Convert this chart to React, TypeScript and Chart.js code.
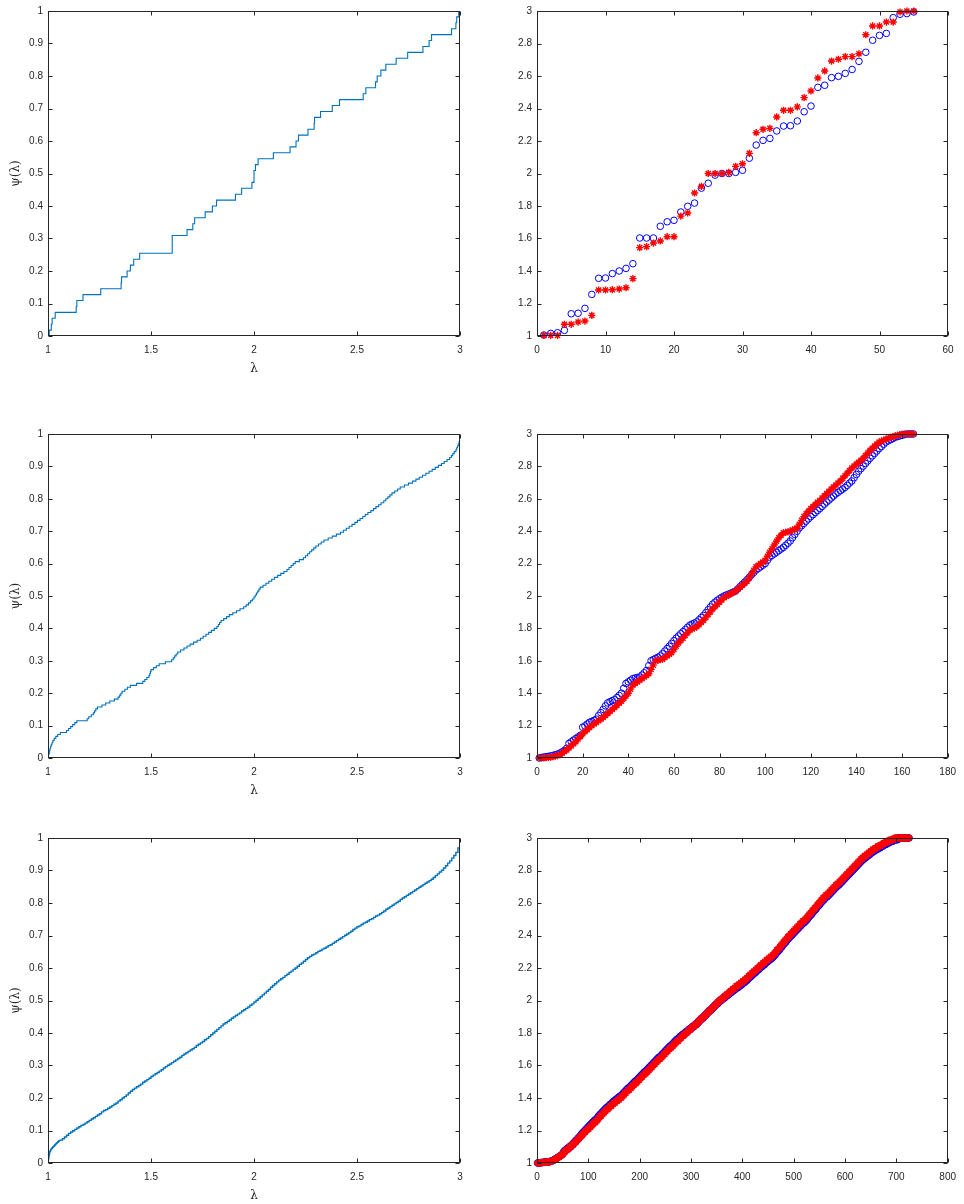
import { useEffect, useRef } from 'react';
import { Chart, registerables } from 'chart.js';

Chart.register(...registerables);

// ---------- data ----------
const TOP_BLUE = [
  1.006, 1.016, 1.020, 1.035, 1.137, 1.140, 1.170, 1.256, 1.355, 1.357,
  1.384, 1.400, 1.416, 1.445, 1.603, 1.603, 1.603, 1.675, 1.703, 1.712,
  1.763, 1.798, 1.818, 1.910, 1.940, 1.990, 2.000, 2.000, 2.007, 2.020,
  2.094, 2.175, 2.204, 2.216, 2.262, 2.292, 2.294, 2.323, 2.380, 2.415,
  2.530, 2.543, 2.590, 2.598, 2.616, 2.640, 2.690, 2.746, 2.820, 2.850,
  2.862, 2.959, 2.980, 2.984, 2.994,
];
const TOP_RED = [
  1.004, 1.004, 1.004, 1.072, 1.072, 1.086, 1.092, 1.127, 1.283, 1.283,
  1.285, 1.289, 1.297, 1.353, 1.544, 1.550, 1.572, 1.585, 1.611, 1.611,
  1.738, 1.757, 1.880, 1.921, 2.000, 2.000, 2.000, 2.007, 2.044, 2.060,
  2.124, 2.251, 2.272, 2.278, 2.348, 2.389, 2.389, 2.410, 2.467, 2.508,
  2.588, 2.631, 2.692, 2.703, 2.719, 2.719, 2.737, 2.854, 2.908, 2.908,
  2.932, 2.932, 2.994, 3.000, 3.000,
];

const MID_BLUE = [
  1.000, 1.003, 1.006, 1.008, 1.010, 1.013, 1.016, 1.020, 1.024, 1.030,
  1.038, 1.047, 1.060, 1.090, 1.100, 1.110, 1.120, 1.130, 1.140, 1.190,
  1.198, 1.210, 1.220, 1.226, 1.232, 1.240, 1.262, 1.280, 1.300, 1.322,
  1.340, 1.348, 1.354, 1.360, 1.373, 1.386, 1.400, 1.430, 1.460, 1.470,
  1.480, 1.490, 1.494, 1.497, 1.500, 1.512, 1.526, 1.540, 1.570, 1.600,
  1.608, 1.615, 1.622, 1.630, 1.644, 1.660, 1.675, 1.690, 1.707, 1.724,
  1.740, 1.753, 1.767, 1.780, 1.793, 1.807, 1.820, 1.827, 1.833, 1.840,
  1.853, 1.867, 1.880, 1.897, 1.915, 1.932, 1.950, 1.962, 1.973, 1.983,
  1.992, 2.000, 2.006, 2.012, 2.018, 2.024, 2.030, 2.044, 2.058, 2.072,
  2.086, 2.100, 2.115, 2.130, 2.145, 2.160, 2.170, 2.180, 2.190, 2.200,
  2.220, 2.240, 2.250, 2.260, 2.270, 2.280, 2.290, 2.300, 2.313, 2.326,
  2.340, 2.360, 2.380, 2.400, 2.420, 2.434, 2.448, 2.462, 2.476, 2.490,
  2.502, 2.515, 2.528, 2.540, 2.553, 2.567, 2.580, 2.592, 2.605, 2.617,
  2.630, 2.640, 2.650, 2.660, 2.670, 2.683, 2.697, 2.710, 2.730, 2.750,
  2.770, 2.786, 2.802, 2.818, 2.834, 2.850, 2.865, 2.880, 2.895, 2.910,
  2.923, 2.937, 2.950, 2.958, 2.965, 2.972, 2.980, 2.984, 2.988, 2.992,
  2.996, 3.000, 3.000, 3.000, 3.000,
];
const MID_RED = [
  1.000, 1.000, 1.001, 1.002, 1.003, 1.005, 1.008, 1.011, 1.015, 1.020,
  1.030, 1.040, 1.050, 1.062, 1.075, 1.088, 1.100, 1.117, 1.133, 1.150,
  1.162, 1.175, 1.188, 1.200, 1.210, 1.220, 1.230, 1.240, 1.250, 1.262,
  1.275, 1.288, 1.300, 1.312, 1.325, 1.338, 1.350, 1.367, 1.383, 1.400,
  1.425, 1.450, 1.460, 1.470, 1.480, 1.490, 1.500, 1.510, 1.520, 1.547,
  1.573, 1.600, 1.603, 1.607, 1.610, 1.620, 1.630, 1.640, 1.650, 1.670,
  1.690, 1.710, 1.725, 1.740, 1.757, 1.773, 1.790, 1.797, 1.803, 1.810,
  1.823, 1.837, 1.850, 1.867, 1.885, 1.902, 1.920, 1.934, 1.948, 1.962,
  1.976, 1.990, 1.998, 2.006, 2.014, 2.022, 2.030, 2.042, 2.054, 2.066,
  2.078, 2.090, 2.112, 2.135, 2.158, 2.180, 2.190, 2.200, 2.210, 2.220,
  2.245, 2.270, 2.292, 2.315, 2.338, 2.360, 2.375, 2.390, 2.393, 2.396,
  2.400, 2.407, 2.413, 2.420, 2.443, 2.467, 2.490, 2.507, 2.523, 2.540,
  2.552, 2.565, 2.578, 2.590, 2.604, 2.618, 2.632, 2.646, 2.660, 2.672,
  2.685, 2.698, 2.710, 2.726, 2.742, 2.758, 2.774, 2.790, 2.802, 2.814,
  2.826, 2.838, 2.850, 2.867, 2.883, 2.900, 2.912, 2.925, 2.938, 2.950,
  2.956, 2.962, 2.968, 2.974, 2.980, 2.984, 2.988, 2.992, 2.996, 3.000,
  3.000, 3.000, 3.000, 3.000, 3.000,
];

const BOT_BLUE = [
  1.000,1.000,1.001,1.001,1.001,1.002,1.002,1.002,1.003,1.003,1.003,1.004,1.004,1.004,1.005,1.005,1.005,1.006,1.006,1.006,1.007,1.007,1.008,1.008,1.009,
  1.010,1.011,1.012,1.013,1.014,1.015,1.017,1.019,1.021,1.023,1.025,1.027,1.029,1.031,1.033,1.035,1.037,1.039,1.041,1.043,1.045,1.047,1.050,1.052,1.055,
  1.06,1.07,1.07,1.07,1.08,1.08,1.08,1.08,1.09,1.09,1.09,1.09,1.10,1.10,1.10,1.10,1.11,1.11,1.11,1.12,1.12,1.12,1.13,1.13,1.13,
  1.14,1.14,1.14,1.15,1.15,1.15,1.16,1.16,1.16,1.17,1.17,1.18,1.18,1.18,1.19,1.19,1.19,1.20,1.20,1.20,1.21,1.21,1.21,1.22,1.22,
  1.22,1.23,1.23,1.23,1.24,1.24,1.24,1.25,1.25,1.25,1.26,1.26,1.26,1.26,1.27,1.27,1.27,1.28,1.28,1.29,1.29,1.29,1.30,1.30,1.30,
  1.31,1.31,1.31,1.32,1.32,1.32,1.33,1.33,1.33,1.34,1.34,1.34,1.34,1.35,1.35,1.35,1.36,1.36,1.36,1.36,1.37,1.37,1.37,1.38,1.38,
  1.38,1.38,1.39,1.39,1.39,1.39,1.40,1.40,1.40,1.40,1.41,1.41,1.41,1.41,1.42,1.42,1.42,1.43,1.43,1.43,1.44,1.44,1.44,1.45,1.45,
  1.45,1.46,1.46,1.46,1.46,1.47,1.47,1.47,1.48,1.48,1.48,1.49,1.49,1.49,1.50,1.50,1.50,1.50,1.51,1.51,1.51,1.52,1.52,1.52,1.53,
  1.53,1.53,1.54,1.54,1.54,1.55,1.55,1.55,1.56,1.56,1.56,1.56,1.57,1.57,1.57,1.58,1.58,1.58,1.59,1.59,1.59,1.60,1.60,1.60,1.61,
  1.61,1.61,1.62,1.62,1.62,1.63,1.63,1.63,1.64,1.64,1.64,1.65,1.65,1.65,1.65,1.66,1.66,1.66,1.67,1.67,1.67,1.68,1.68,1.68,1.69,
  1.69,1.69,1.70,1.70,1.70,1.71,1.71,1.71,1.72,1.72,1.72,1.72,1.73,1.73,1.73,1.74,1.74,1.74,1.75,1.75,1.75,1.76,1.76,1.76,1.76,
  1.77,1.77,1.77,1.78,1.78,1.78,1.78,1.79,1.79,1.79,1.79,1.80,1.80,1.80,1.80,1.81,1.81,1.81,1.81,1.82,1.82,1.82,1.82,1.83,1.83,
  1.83,1.83,1.84,1.84,1.84,1.84,1.85,1.85,1.85,1.85,1.86,1.86,1.86,1.87,1.87,1.87,1.88,1.88,1.88,1.89,1.89,1.89,1.89,1.90,1.90,
  1.90,1.91,1.91,1.91,1.92,1.92,1.92,1.93,1.93,1.93,1.94,1.94,1.94,1.94,1.95,1.95,1.95,1.96,1.96,1.96,1.97,1.97,1.97,1.98,1.98,
  1.98,1.98,1.99,1.99,1.99,2.00,2.00,2.00,2.00,2.01,2.01,2.01,2.01,2.02,2.02,2.02,2.02,2.03,2.03,2.03,2.03,2.04,2.04,2.04,2.04,
  2.05,2.05,2.05,2.05,2.06,2.06,2.06,2.06,2.07,2.07,2.07,2.07,2.08,2.08,2.08,2.08,2.08,2.09,2.09,2.09,2.09,2.10,2.10,2.10,2.10,
  2.11,2.11,2.11,2.11,2.12,2.12,2.12,2.12,2.13,2.13,2.13,2.14,2.14,2.14,2.15,2.15,2.15,2.15,2.16,2.16,2.16,2.17,2.17,2.17,2.17,
  2.18,2.18,2.18,2.19,2.19,2.19,2.19,2.20,2.20,2.20,2.21,2.21,2.21,2.21,2.22,2.22,2.22,2.22,2.23,2.23,2.23,2.24,2.24,2.24,2.24,
  2.25,2.25,2.25,2.25,2.26,2.26,2.26,2.26,2.27,2.27,2.27,2.28,2.28,2.28,2.29,2.29,2.30,2.30,2.30,2.31,2.31,2.31,2.32,2.32,2.33,
  2.33,2.33,2.34,2.34,2.35,2.35,2.35,2.36,2.36,2.36,2.37,2.37,2.38,2.38,2.38,2.39,2.39,2.39,2.40,2.40,2.40,2.41,2.41,2.41,2.42,
  2.42,2.42,2.43,2.43,2.43,2.44,2.44,2.44,2.45,2.45,2.45,2.46,2.46,2.46,2.47,2.47,2.47,2.48,2.48,2.48,2.48,2.49,2.49,2.49,2.50,
  2.50,2.50,2.51,2.51,2.52,2.52,2.52,2.53,2.53,2.53,2.54,2.54,2.55,2.55,2.55,2.56,2.56,2.56,2.57,2.57,2.58,2.58,2.58,2.59,2.59,
  2.59,2.60,2.60,2.61,2.61,2.61,2.62,2.62,2.62,2.63,2.63,2.63,2.64,2.64,2.64,2.64,2.65,2.65,2.65,2.66,2.66,2.66,2.67,2.67,2.67,
  2.68,2.68,2.68,2.69,2.69,2.69,2.70,2.70,2.70,2.71,2.71,2.71,2.71,2.72,2.72,2.72,2.73,2.73,2.73,2.74,2.74,2.74,2.75,2.75,2.75,
  2.76,2.76,2.76,2.77,2.77,2.77,2.78,2.78,2.78,2.79,2.79,2.79,2.80,2.80,2.80,2.81,2.81,2.81,2.82,2.82,2.82,2.83,2.83,2.83,2.84,
  2.84,2.84,2.85,2.85,2.85,2.86,2.86,2.86,2.87,2.87,2.87,2.87,2.88,2.88,2.88,2.88,2.89,2.89,2.89,2.89,2.90,2.90,2.90,2.90,2.91,
  2.91,2.91,2.91,2.92,2.92,2.92,2.92,2.92,2.93,2.93,2.93,2.93,2.93,2.94,2.94,2.94,2.94,2.94,2.94,2.95,2.95,2.95,2.95,2.95,2.96,
  2.96,2.96,2.96,2.96,2.96,2.97,2.97,2.97,2.97,2.97,2.97,2.98,2.98,2.98,2.98,2.98,2.98,2.98,2.99,2.99,2.99,2.99,2.99,2.99,2.99,
  2.99,2.99,2.99,3.00,3.00,3.00,3.00,3.00,3.00,3.00,3.00,3.00,3.00,3.00,3.00,3.00,3.00,3.00,3.00,3.00,3.00,3.00,3.00,3.00,3.00,
];
const BOT_RED = [
  1.000,1.000,1.000,1.001,1.001,1.001,1.002,1.002,1.002,1.003,1.003,1.003,1.004,1.004,1.004,1.005,1.005,1.005,1.006,1.006,1.006,1.007,1.007,1.008,1.008,
  1.009,1.010,1.011,1.012,1.013,1.014,1.016,1.018,1.020,1.022,1.024,1.026,1.028,1.030,1.032,1.034,1.036,1.038,1.040,1.042,1.044,1.046,1.049,1.051,1.054,
  1.06,1.06,1.07,1.07,1.07,1.08,1.08,1.08,1.08,1.09,1.09,1.09,1.09,1.10,1.10,1.10,1.11,1.11,1.11,1.11,1.12,1.12,1.12,1.13,1.13,
  1.13,1.14,1.14,1.14,1.15,1.15,1.15,1.16,1.16,1.16,1.17,1.17,1.17,1.18,1.18,1.18,1.19,1.19,1.19,1.20,1.20,1.20,1.21,1.21,1.21,
  1.21,1.22,1.22,1.22,1.23,1.23,1.23,1.24,1.24,1.24,1.25,1.25,1.25,1.25,1.26,1.26,1.26,1.27,1.27,1.28,1.28,1.28,1.29,1.29,1.29,
  1.30,1.30,1.30,1.31,1.31,1.31,1.32,1.32,1.32,1.33,1.33,1.33,1.33,1.34,1.34,1.34,1.35,1.35,1.35,1.35,1.36,1.36,1.36,1.37,1.37,
  1.37,1.37,1.38,1.38,1.38,1.38,1.39,1.39,1.39,1.39,1.40,1.40,1.40,1.40,1.41,1.41,1.41,1.42,1.42,1.42,1.43,1.43,1.43,1.44,1.44,
  1.44,1.45,1.45,1.45,1.45,1.46,1.46,1.46,1.47,1.47,1.47,1.48,1.48,1.48,1.49,1.49,1.49,1.49,1.50,1.50,1.50,1.51,1.51,1.51,1.52,
  1.52,1.52,1.53,1.53,1.53,1.54,1.54,1.54,1.55,1.55,1.55,1.55,1.56,1.56,1.56,1.57,1.57,1.57,1.58,1.58,1.58,1.59,1.59,1.59,1.60,
  1.60,1.60,1.61,1.61,1.61,1.62,1.62,1.62,1.63,1.63,1.63,1.64,1.64,1.64,1.64,1.65,1.65,1.65,1.66,1.66,1.66,1.67,1.67,1.67,1.68,
  1.68,1.68,1.69,1.69,1.69,1.70,1.70,1.70,1.71,1.71,1.71,1.71,1.72,1.72,1.72,1.73,1.73,1.73,1.74,1.74,1.74,1.75,1.75,1.75,1.75,
  1.76,1.76,1.76,1.77,1.77,1.77,1.78,1.78,1.78,1.78,1.79,1.79,1.79,1.80,1.80,1.80,1.80,1.81,1.81,1.81,1.82,1.82,1.82,1.82,1.83,
  1.83,1.83,1.84,1.84,1.84,1.84,1.85,1.85,1.85,1.85,1.86,1.86,1.86,1.87,1.87,1.87,1.88,1.88,1.88,1.89,1.89,1.89,1.89,1.90,1.90,
  1.90,1.91,1.91,1.91,1.92,1.92,1.92,1.93,1.93,1.93,1.94,1.94,1.94,1.94,1.95,1.95,1.95,1.96,1.96,1.96,1.97,1.97,1.97,1.98,1.98,
  1.98,1.99,1.99,1.99,2.00,2.00,2.00,2.00,2.01,2.01,2.01,2.01,2.02,2.02,2.02,2.03,2.03,2.03,2.03,2.04,2.04,2.04,2.04,2.05,2.05,
  2.05,2.06,2.06,2.06,2.06,2.07,2.07,2.07,2.07,2.08,2.08,2.08,2.09,2.09,2.09,2.09,2.09,2.10,2.10,2.10,2.10,2.11,2.11,2.11,2.11,
  2.12,2.12,2.12,2.12,2.13,2.13,2.13,2.13,2.14,2.14,2.14,2.15,2.15,2.15,2.16,2.16,2.16,2.16,2.17,2.17,2.17,2.18,2.18,2.18,2.18,
  2.19,2.19,2.19,2.20,2.20,2.20,2.20,2.21,2.21,2.21,2.22,2.22,2.22,2.22,2.23,2.23,2.23,2.23,2.24,2.24,2.24,2.25,2.25,2.25,2.25,
  2.26,2.26,2.26,2.26,2.27,2.27,2.27,2.27,2.28,2.28,2.28,2.29,2.29,2.29,2.30,2.30,2.31,2.31,2.31,2.32,2.32,2.32,2.33,2.33,2.34,
  2.34,2.34,2.35,2.35,2.36,2.36,2.36,2.37,2.37,2.37,2.38,2.38,2.39,2.39,2.39,2.40,2.40,2.40,2.41,2.41,2.41,2.42,2.42,2.42,2.43,
  2.43,2.43,2.44,2.44,2.44,2.45,2.45,2.45,2.46,2.46,2.46,2.47,2.47,2.47,2.48,2.48,2.48,2.49,2.49,2.49,2.49,2.50,2.50,2.50,2.51,
  2.51,2.51,2.52,2.52,2.53,2.53,2.53,2.54,2.54,2.54,2.55,2.55,2.56,2.56,2.56,2.57,2.57,2.57,2.58,2.58,2.59,2.59,2.59,2.60,2.60,
  2.60,2.61,2.61,2.62,2.62,2.62,2.63,2.63,2.63,2.64,2.64,2.64,2.65,2.65,2.65,2.65,2.66,2.66,2.66,2.67,2.67,2.67,2.68,2.68,2.68,
  2.69,2.69,2.69,2.70,2.70,2.70,2.71,2.71,2.71,2.72,2.72,2.72,2.72,2.73,2.73,2.73,2.74,2.74,2.74,2.75,2.75,2.75,2.76,2.76,2.76,
  2.77,2.77,2.77,2.78,2.78,2.78,2.79,2.79,2.79,2.80,2.80,2.80,2.81,2.81,2.81,2.82,2.82,2.82,2.83,2.83,2.83,2.84,2.84,2.84,2.85,
  2.85,2.85,2.86,2.86,2.86,2.87,2.87,2.87,2.88,2.88,2.88,2.88,2.89,2.89,2.89,2.89,2.90,2.90,2.90,2.90,2.91,2.91,2.91,2.91,2.92,
  2.92,2.92,2.92,2.93,2.93,2.93,2.93,2.93,2.94,2.94,2.94,2.94,2.94,2.95,2.95,2.95,2.95,2.95,2.95,2.96,2.96,2.96,2.96,2.96,2.97,
  2.97,2.97,2.97,2.97,2.97,2.98,2.98,2.98,2.98,2.98,2.98,2.98,2.99,2.99,2.99,2.99,2.99,2.99,2.99,2.99,3.00,3.00,3.00,3.00,3.00,
  3.00,3.00,3.00,3.00,3.00,3.00,3.00,3.00,3.00,3.00,3.00,3.00,3.00,3.00,3.00,3.00,3.00,3.00,3.00,3.00,3.00,3.00,3.00,3.00,3.00,
];

// axis ranges / tick steps: [min, max, step]
const CDF_X_AXIS = [1, 3, 0.5];
const CDF_Y_AXIS = [0, 1, 0.1];
const EIG_Y_AXIS = [1, 3, 0.2];
const EIG_X_AXIS_TOP = [0, 60, 10];
const EIG_X_AXIS_MID = [0, 180, 20];
const EIG_X_AXIS_BOT = [0, 800, 100];

const X_TITLE = 'λ';
const Y_TITLE = 'ψ(λ)';

// ---------- layout ----------
const Y_AXIS_W = 48;
const PAD_TOP = 10;
const PAD_RIGHT = 16;
const X_AXIS_H = 40;
const AXIS_COLOR = '#262626';
const FONT_FAMILY = "'Liberation Sans', Arial, Helvetica, sans-serif";

type Spec = {
  id: string;
  kind: 'cdf' | 'eig';
  left: number;
  top: number;
  w: number;
  h: number;
  blue: number[];
  red?: number[];
  xAxis: number[];
  yAxis: number[];
};

const COL_L = { left: 48, w: 412 };
const COL_R = { left: 537, w: 411 };
const ROWS = [
  { top: 10, h: 326 },
  { top: 433, h: 325 },
  { top: 837, h: 326 },
];

const SPECS: Spec[] = [
  { id: 'a', kind: 'cdf', ...COL_L, ...ROWS[0], blue: TOP_BLUE, xAxis: CDF_X_AXIS, yAxis: CDF_Y_AXIS },
  { id: 'b', kind: 'eig', ...COL_R, ...ROWS[0], blue: TOP_BLUE, red: TOP_RED, xAxis: EIG_X_AXIS_TOP, yAxis: EIG_Y_AXIS },
  { id: 'c', kind: 'cdf', ...COL_L, ...ROWS[1], blue: MID_BLUE, xAxis: CDF_X_AXIS, yAxis: CDF_Y_AXIS },
  { id: 'd', kind: 'eig', ...COL_R, ...ROWS[1], blue: MID_BLUE, red: MID_RED, xAxis: EIG_X_AXIS_MID, yAxis: EIG_Y_AXIS },
  { id: 'e', kind: 'cdf', ...COL_L, ...ROWS[2], blue: BOT_BLUE, xAxis: CDF_X_AXIS, yAxis: CDF_Y_AXIS },
  { id: 'f', kind: 'eig', ...COL_R, ...ROWS[2], blue: BOT_BLUE, red: BOT_RED, xAxis: EIG_X_AXIS_BOT, yAxis: EIG_Y_AXIS },
];

const fmtTick = (v: any) => String(Math.round(Number(v) * 1000) / 1000);

const boxPlugin = {
  id: 'matlabBox',
  afterDatasetsDraw(chart: any) {
    const { ctx, chartArea: a, scales } = chart;
    const L = Math.round(a.left) + 0.5;
    const R = Math.round(a.right) - 0.5;
    const T = Math.round(a.top) + 0.5;
    const B = Math.round(a.bottom) - 0.5;
    const tl = 4;
    ctx.save();
    ctx.strokeStyle = AXIS_COLOR;
    ctx.lineWidth = 1;
    ctx.strokeRect(L, T, R - L, B - T);
    ctx.beginPath();
    for (const t of scales.x.ticks) {
      const p = Math.round(scales.x.getPixelForValue(t.value)) + 0.5;
      ctx.moveTo(p, B); ctx.lineTo(p, B - tl);
      ctx.moveTo(p, T); ctx.lineTo(p, T + tl);
    }
    for (const t of scales.y.ticks) {
      const p = Math.round(scales.y.getPixelForValue(t.value)) + 0.5;
      ctx.moveTo(L, p); ctx.lineTo(L + tl, p);
      ctx.moveTo(R, p); ctx.lineTo(R - tl, p);
    }
    ctx.stroke();
    ctx.restore();
  },
};

function Panel({ spec }: { spec: Spec }) {
  const ref = useRef<HTMLCanvasElement>(null);
  const cw = Y_AXIS_W + spec.w + PAD_RIGHT;
  const ch = PAD_TOP + spec.h + X_AXIS_H;

  useEffect(() => {
    const canvas = ref.current;
    if (!canvas) return;
    let datasets: any[];
    if (spec.kind === 'cdf') {
      const n = spec.blue.length;
      const pts = [{ x: spec.blue[0], y: 0 }, ...spec.blue.map((v, i) => ({ x: v, y: (i + 1) / n }))];
      datasets = [{
        data: pts,
        stepped: true,
        borderColor: '#0072BD',
        borderWidth: n > 300 ? 1.4 : 1.1,
        pointRadius: 0,
        fill: false,
      }];
    } else {
      datasets = [
        {
          data: (spec.red || []).map((v, i) => ({ x: i + 1, y: v })),
          pointStyle: 'star',
          pointRadius: 3.6,
          pointBorderWidth: 1.4,
          pointBorderColor: '#ff0000',
          pointBackgroundColor: '#ff0000',
          borderColor: '#ff0000',
          showLine: false,
          order: 0,
          clip: false,
        },
        {
          data: spec.blue.map((v, i) => ({ x: i + 1, y: v })),
          pointStyle: 'circle',
          pointRadius: 3.3,
          pointBorderWidth: 1,
          pointBorderColor: '#0000ff',
          pointBackgroundColor: 'rgba(0,0,0,0)',
          borderColor: '#0000ff',
          showLine: false,
          order: 1,
          clip: false,
        },
      ];
    }
    const tickFont = { family: FONT_FAMILY, size: 10 };
    const titleFont = { family: "'DejaVu Serif', 'Liberation Serif', serif", size: 12 };
    const isCdf = spec.kind === 'cdf';
    const chart = new Chart(canvas, {
      type: isCdf ? 'line' : 'scatter',
      data: { datasets },
      options: {
        animation: false,
        responsive: false,
        events: [],
        layout: { padding: { top: PAD_TOP, right: PAD_RIGHT, left: 0, bottom: 0 } },
        plugins: { legend: { display: false }, tooltip: { enabled: false } },
        scales: {
          x: {
            type: 'linear',
            min: spec.xAxis[0],
            max: spec.xAxis[1],
            ticks: { stepSize: spec.xAxis[2], padding: 8, color: AXIS_COLOR, font: tickFont, maxRotation: 0, autoSkip: false, callback: fmtTick },
            grid: { display: false, drawTicks: false },
            border: { display: false },
            title: { display: isCdf, text: X_TITLE, color: AXIS_COLOR, font: titleFont, padding: { top: 0, bottom: 0 } },
            afterFit: (s: any) => { s.height = X_AXIS_H; },
          },
          y: {
            type: 'linear',
            min: spec.yAxis[0],
            max: spec.yAxis[1],
            ticks: { stepSize: spec.yAxis[2], padding: 5, color: AXIS_COLOR, font: tickFont, autoSkip: false, callback: fmtTick },
            grid: { display: false, drawTicks: false },
            border: { display: false },
            title: { display: isCdf, text: Y_TITLE, color: AXIS_COLOR, font: titleFont, padding: { top: 9, bottom: 0 } },
            afterFit: (s: any) => { s.width = Y_AXIS_W; },
          },
        },
      } as any,
      plugins: [boxPlugin],
    });
    return () => chart.destroy();
  }, [spec]);

  return (
    <canvas
      ref={ref}
      width={cw}
      height={ch}
      style={{ position: 'absolute', left: spec.left - Y_AXIS_W, top: spec.top - PAD_TOP, width: cw, height: ch }}
    />
  );
}

export default function App() {
  return (
    <div style={{ position: 'absolute', left: 0, top: 0, width: 964, height: 1204, background: '#ffffff', overflow: 'hidden' }}>
      {SPECS.map((s) => (
        <Panel key={s.id} spec={s} />
      ))}
    </div>
  );
}
